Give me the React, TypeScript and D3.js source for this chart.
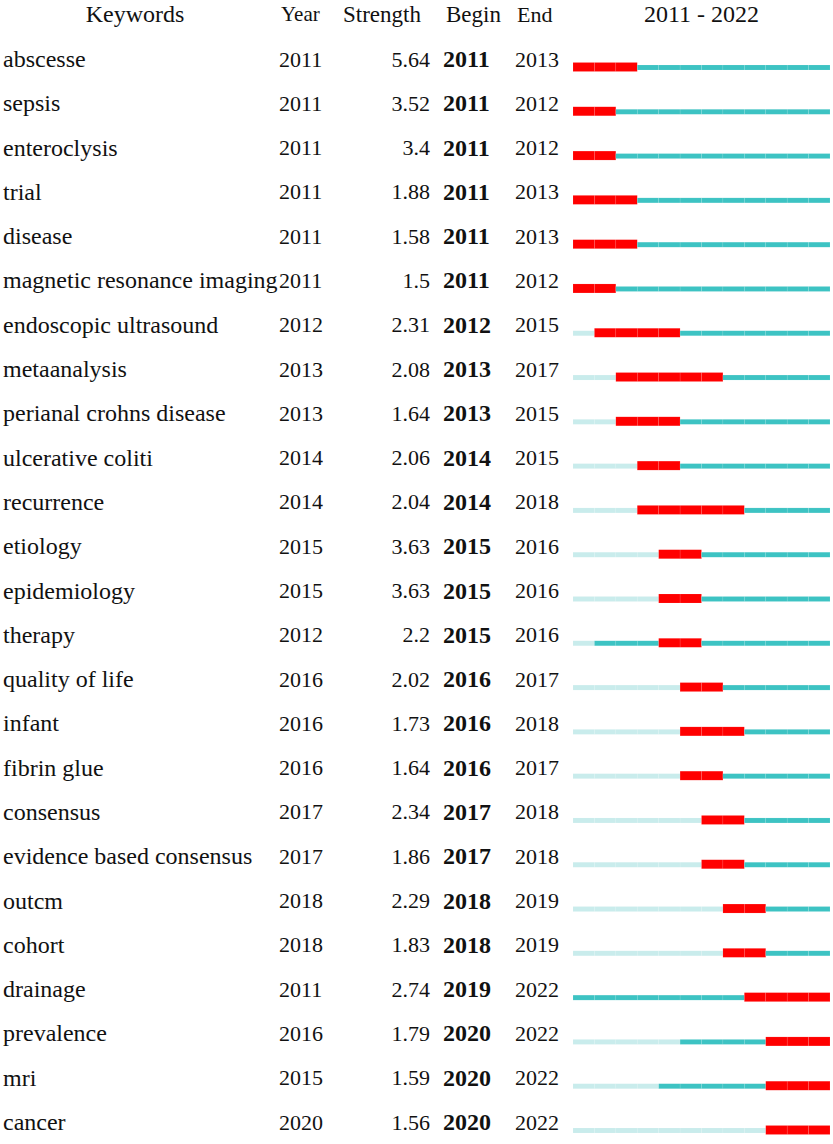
import React from 'react';
import * as d3 from 'd3';

const keywords = [
  'abscesse', 'sepsis', 'enteroclysis', 'trial', 'disease', 'magnetic resonance imaging',
  'endoscopic ultrasound', 'metaanalysis', 'perianal crohns disease', 'ulcerative coliti',
  'recurrence', 'etiology', 'epidemiology', 'therapy', 'quality of life', 'infant',
  'fibrin glue', 'consensus', 'evidence based consensus', 'outcm', 'cohort', 'drainage',
  'prevalence', 'mri', 'cancer',
];
const years = [2011, 2011, 2011, 2011, 2011, 2011, 2012, 2013, 2013, 2014, 2014, 2015, 2015, 2012, 2016, 2016, 2016, 2017, 2017, 2018, 2018, 2011, 2016, 2015, 2020];
const strengths = ['5.64', '3.52', '3.4', '1.88', '1.58', '1.5', '2.31', '2.08', '1.64', '2.06', '2.04', '3.63', '3.63', '2.2', '2.02', '1.73', '1.64', '2.34', '1.86', '2.29', '1.83', '2.74', '1.79', '1.59', '1.56'];
const begins = [2011, 2011, 2011, 2011, 2011, 2011, 2012, 2013, 2013, 2014, 2014, 2015, 2015, 2015, 2016, 2016, 2016, 2017, 2017, 2018, 2018, 2019, 2020, 2020, 2020];
const ends = [2013, 2012, 2012, 2013, 2013, 2012, 2015, 2017, 2015, 2015, 2018, 2016, 2016, 2016, 2017, 2018, 2017, 2018, 2018, 2019, 2019, 2022, 2022, 2022, 2022];
const headers = ['Keywords', 'Year', 'Strength', 'Begin', 'End'];
const firstYear = 2011;
const lastYear = 2022;

const W = 833;
const H = 1144;
const font = '"Times New Roman", "Liberation Serif", serif';

export default function App() {
  const timeline = d3.range(firstYear, lastYear + 1);
  const x = d3.scaleLinear().domain([firstYear, lastYear + 1]).range([573, 830]);
  const y = d3.scaleLinear().domain([0, keywords.length - 1]).range([59, 1122]);

  const cellColor = (i: number, yr: number) => {
    if (yr < years[i]) return '#c9ecec';
    if (yr >= begins[i] && yr <= ends[i]) return '#ff0000';
    return '#3dc3c3';
  };

  return (
    <svg width={W} height={H} style={{ position: 'absolute', left: 0, top: 0, background: '#fff' }}
      fontFamily={font} fontSize={22} fill="#111">
      {/* header row */}
      <g dominantBaseline="central">
        <text x={135} y={14} textAnchor="middle" fontSize={24}>{headers[0]}</text>
        <text x={281} y={14} fontSize={21}>{headers[1]}</text>
        <text x={343} y={14} fontSize={23}>{headers[2]}</text>
        <text x={446} y={14} fontSize={23}>{headers[3]}</text>
        <text x={517} y={14} fontSize={22}>{headers[4]}</text>
        <text x={(x(firstYear) + x(lastYear + 1)) / 2} y={14} textAnchor="middle" fontSize={24}>
          {`${firstYear} - ${lastYear}`}
        </text>
      </g>

      {keywords.map((k, i) => {
        const ty = y(i);
        const by = ty + 8;
        return (
          <g key={k + i}>
            <text x={3} y={ty} dominantBaseline="central" fontSize={24}>{k}</text>
            <text x={279} y={ty} dominantBaseline="central">{years[i]}</text>
            <text x={430} y={ty} dominantBaseline="central" textAnchor="end">{strengths[i]}</text>
            <text x={443} y={ty} dominantBaseline="central" fontWeight="bold" fontSize={24}>{begins[i]}</text>
            <text x={515} y={ty} dominantBaseline="central">{ends[i]}</text>
            {timeline.map(yr => {
              const c = cellColor(i, yr);
              const red = c === '#ff0000';
              return (
                <rect key={yr}
                  x={x(yr)} width={x(yr + 1) - x(yr)}
                  y={red ? by - 4.5 : by - 2} height={red ? 9 : 5}
                  fill={c} stroke="#ffffff" strokeOpacity={0.18} strokeWidth={0.5} />
              );
            })}
          </g>
        );
      })}
    </svg>
  );
}
